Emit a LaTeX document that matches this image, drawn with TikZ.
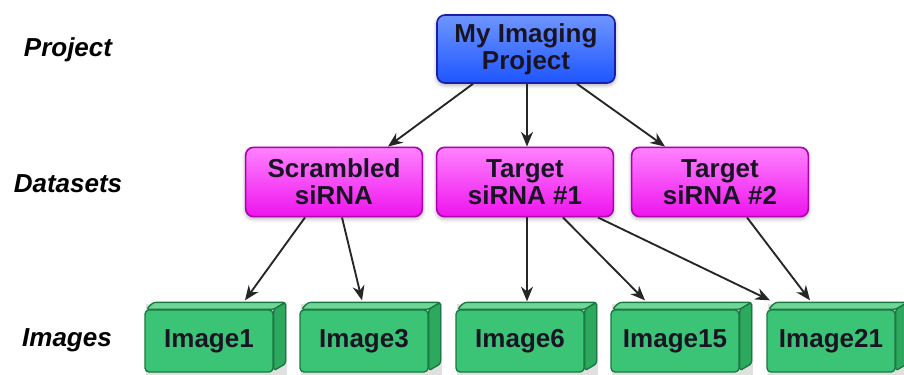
\documentclass[tikz,border=0pt]{standalone}
\usepackage{fontspec}
\setmainfont{Liberation Sans}
\usetikzlibrary{arrows.meta,calc,shadows.blur,backgrounds}
\definecolor{projtop}{RGB}{110,150,255}
\definecolor{projbot}{RGB}{30,85,255}
\definecolor{projedge}{RGB}{25,30,170}
\definecolor{dstop}{RGB}{255,130,255}
\definecolor{dsbot}{RGB}{238,20,238}
\definecolor{dsedge}{RGB}{175,0,175}
\definecolor{imgfill}{RGB}{60,196,118}
\definecolor{imgtop}{RGB}{110,215,150}
\definecolor{imgside}{RGB}{45,168,95}
\definecolor{imgedge}{RGB}{25,120,65}
\definecolor{txtdark}{RGB}{25,20,35}
\tikzset{
  boxfont/.style={font=\fontsize{19.5}{20}\selectfont\bfseries, text=txtdark, align=center},
  glow/.style={blur shadow={shadow blur radius=3pt, shadow xshift=0pt, shadow yshift=-1.5pt, shadow opacity=35}},
  projbox/.style={boxfont, glow, rounded corners=6pt, draw=projedge, line width=1.2pt,
    top color=projtop, bottom color=projbot, minimum width=133.5pt, minimum height=51pt, inner sep=0pt},
  dsbox/.style={boxfont, glow, rounded corners=6pt, draw=dsedge, line width=1.2pt,
    top color=dstop, bottom color=dsbot, minimum width=132.5pt, minimum height=52pt, inner sep=0pt},
  imgbox/.style={boxfont, rounded corners=3pt, draw=imgedge, line width=1pt,
    fill=imgfill, minimum width=96pt, minimum height=46.5pt, inner sep=0pt},
  level/.style={font=\fontsize{19.5}{20}\selectfont\bfseries\itshape, text=black},
  conn/.style={draw=black!85, line width=1.4pt, -{Stealth[length=11pt,width=9pt]}},
}
\begin{document}
\begin{tikzpicture}[x=0.75pt,y=-0.75pt]
\useasboundingbox (0,0) rectangle (904,375);
% level labels
\node[level] (lp) at (68,50) {Project};
\node[level] (ld) at (68,184) {Datasets};
\node[level] (li) at (67,340) {Images};
% project
\node[projbox] (proj) at (526,49) {My Imaging\\Project};
% datasets
\node[dsbox] (scr) at (334,182) {Scrambled\\siRNA};
\node[dsbox] (tg1) at (525,182) {Target\\siRNA \#1};
\node[dsbox] (tg2) at (720,182) {Target\\siRNA \#2};
% images
\node[imgbox] (img1) at (209,341) {Image1};
\node[imgbox] (img3) at (364,341) {Image3};
\node[imgbox] (img6) at (520,341) {Image6};
\node[imgbox] (img15) at (675,341) {Image15};
\node[imgbox] (img21) at (831,341) {Image21};
\begin{scope}[on background layer]
\foreach \n in {img1,img3,img6,img15,img21}{
  \fill[black,opacity=0.12] ($(\n.south west)+(2,3)$) rectangle ($(\n.north east)+(13,-5)$);
  \filldraw[fill=imgtop, draw=imgedge, line width=1pt, rounded corners=2pt]
    ($(\n.north west)+(2,0)$) -- ($(\n.north west)+(9,-7)$) -- ($(\n.north east)+(12,-7)$) -- (\n.north east) -- cycle;
  \filldraw[fill=imgside, draw=imgedge, line width=1pt, rounded corners=2pt]
    (\n.north east) -- ($(\n.north east)+(12,-7)$) -- ($(\n.south east)+(12,-9)$) -- ($(\n.south east)+(0,-2)$) -- cycle;
}
\end{scope}
% connectors
\draw[conn] ($(proj.south)+(-53,0)$) -- ($(scr.north)+(54,0)$);
\draw[conn] ($(proj.south)+(1,0)$) -- ($(tg1.north)+(2,0)$);
\draw[conn] ($(proj.south)+(51,0)$) -- ($(tg2.north)+(-55,0)$);
\draw[conn] ($(scr.south)+(-29,0)$) -- ($(img1.north)+(36,-9)$);
\draw[conn] ($(scr.south)+(8,0)$) -- ($(img3.north)+(-2,-9)$);
\draw[conn] ($(tg1.south)+(2,0)$) -- ($(img6.north)+(7,-8)$);
\draw[conn] ($(tg1.south)+(38,0)$) -- ($(img15.north)+(-30,-9)$);
\draw[conn] ($(tg1.south)+(73,0)$) -- ($(img21.north)+(-61,-9)$);
\draw[conn] ($(tg2.south)+(27,0)$) -- ($(img21.north)+(-21,-9)$);
\end{tikzpicture}
\end{document}
